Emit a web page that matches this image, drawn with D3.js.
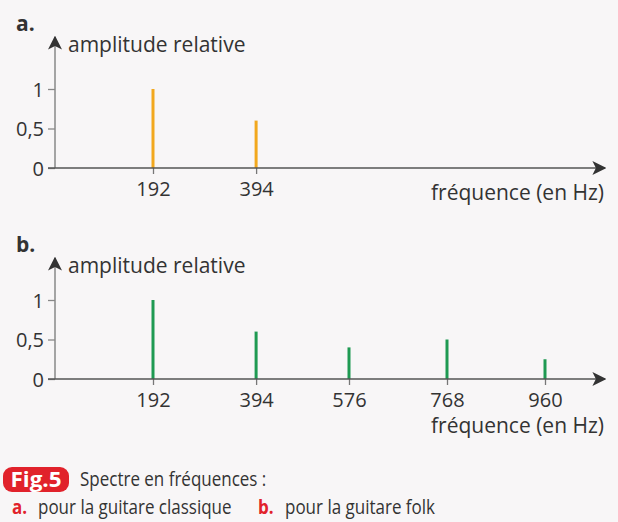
<!DOCTYPE html>
<html>
<head>
<meta charset="utf-8">
<script src="https://cdn.jsdelivr.net/npm/d3@7"></script>
<style>
  body { margin: 0; background: #f8f6f7; }
  svg { display: block; font-family: "Open Sans", sans-serif; }
</style>
</head>
<body>
<div id="chart"></div>
<script>
// spectre a : guitare classique
var freqA = [192, 394];
var ampA = [1, 0.6];
// spectre b : guitare folk
var freqB = [192, 394, 576, 768, 960];
var ampB = [1, 0.6, 0.4, 0.5, 0.25];
var ampTicks = [0, 0.5, 1];
var ampTickLabels = ["0", "0,5", "1"];

(function() {
  var width = 618, height = 522;

  var svg = d3.select("#chart")
    .append("svg")
    .attr("width", width)
    .attr("height", height)

  var defs = svg.append("defs")
  defs.append("marker")
    .attr("id", "arrow")
    .attr("viewBox", "0 0 10 10")
    .attr("refX", 9)
    .attr("refY", 5)
    .attr("markerWidth", 14)
    .attr("markerHeight", 14)
    .attr("markerUnits", "userSpaceOnUse")
    .attr("orient", "auto")
    .append("path")
    .attr("d", "M0,0 L10,5 L0,10 L2.5,5 Z")
    .attr("fill", "#333")

  var x = d3.scaleLinear()
    .domain([0, 960])
    .range([55, 545])

  // head = extra shift of the letter / arrow / title, labelY = baseline of the x title
  function drawPanel(top, head, labelY, letter, freqs, amps, color) {
    var g = svg.append("g")
      .attr("transform", "translate(0," + top + ")")

    // y = 0 at 168 px, 1 at 89 px inside the panel
    var y = d3.scaleLinear()
      .domain([0, 1])
      .range([168, 89])

    g.append("text")
      .text(letter)
      .attr("x", 16)
      .attr("y", 31 + head)
      .attr("font-size", "21px")
      .attr("font-weight", "bold")
      .attr("fill", "#333")

    // y axis
    var yAxis = d3.axisLeft(y)
      .tickValues(ampTicks)
      .tickSize(7)
      .tickPadding(4)
      .tickFormat(function(d, i) { return ampTickLabels[i] })

    var ya = g.append("g")
      .attr("transform", "translate(" + x(0) + ",0)")
      .call(yAxis)
    ya.select(".domain").remove()
    ya.selectAll("line").attr("stroke", "#888").attr("stroke-width", 1.3)
    ya.selectAll("text")
      .attr("font-size", "20px")
      .attr("font-family", "Open Sans, sans-serif")
      .attr("fill", "#333")
      .attr("dy", "0.36em")

    g.append("line")
      .attr("x1", x(0))
      .attr("x2", x(0))
      .attr("y1", y(0))
      .attr("y2", 37 + head)
      .attr("stroke", "#888")
      .attr("stroke-width", 1.5)
      .attr("marker-end", "url(#arrow)")

    g.append("text")
      .text("amplitude relative")
      .attr("x", 68)
      .attr("y", 52 + head)
      .attr("font-size", "21px")
      .attr("fill", "#333")

    // x axis
    var xAxis = d3.axisBottom(x)
      .tickValues(freqs)
      .tickSize(6)
      .tickPadding(8)
      .tickFormat(d3.format("d"))

    var xa = g.append("g")
      .attr("transform", "translate(0," + y(0) + ")")
      .call(xAxis)
    xa.select(".domain").remove()
    xa.selectAll("line").attr("stroke", "#777").attr("stroke-width", 1.3)
    xa.selectAll("text")
      .attr("font-size", "20px")
      .attr("font-family", "Open Sans, sans-serif")
      .attr("fill", "#333")

    // bars
    g.selectAll(".bar")
      .data(freqs)
      .enter().append("line")
      .attr("class", "bar")
      .attr("x1", function(d) { return x(d) })
      .attr("x2", function(d) { return x(d) })
      .attr("y1", y(0))
      .attr("y2", function(d, i) { return y(amps[i]) })
      .attr("stroke", color)
      .attr("stroke-width", 3)

    g.append("line")
      .attr("x1", 48)
      .attr("x2", 605)
      .attr("y1", y(0))
      .attr("y2", y(0))
      .attr("stroke", "#555")
      .attr("stroke-width", 1.6)
      .attr("marker-end", "url(#arrow)")

    g.append("text")
      .text("fréquence (en Hz)")
      .attr("x", 604)
      .attr("y", labelY)
      .attr("text-anchor", "end")
      .attr("font-size", "21px")
      .attr("fill", "#333")
  }

  drawPanel(0, 0, 200, "a.", freqA, ampA, "#f2a81e")
  drawPanel(211, 10, 222, "b.", freqB, ampB, "#1f9a52")

  // caption (the book uses a condensed face, so squeeze horizontally)
  svg.append("rect")
    .attr("x", 3)
    .attr("y", 467)
    .attr("width", 66)
    .attr("height", 25)
    .attr("rx", 9)
    .attr("fill", "#e1222b")

  var caps = [
    { t: "Fig.5", x: 36, y: 487, size: 22, sx: 1.02, anchor: "middle", bold: true, color: "white" },
    { t: "Spectre en fréquences :", x: 80, y: 486, size: 20, sx: 0.85, anchor: "start", bold: false, color: "#333" },
    { t: "a.", x: 12, y: 514, size: 20, sx: 0.85, anchor: "start", bold: true, color: "#e1222b" },
    { t: "pour la guitare classique", x: 38, y: 514, size: 20, sx: 0.85, anchor: "start", bold: false, color: "#333" },
    { t: "b.", x: 258, y: 514, size: 20, sx: 0.85, anchor: "start", bold: true, color: "#e1222b" },
    { t: "pour la guitare folk", x: 285, y: 514, size: 20, sx: 0.85, anchor: "start", bold: false, color: "#333" }
  ]
  svg.selectAll(".cap")
    .data(caps)
    .enter().append("text")
    .attr("class", "cap")
    .text(function(d) { return d.t })
    .attr("transform", function(d) { return "translate(" + d.x + "," + d.y + ") scale(" + d.sx + ",1)" })
    .attr("text-anchor", function(d) { return d.anchor })
    .attr("font-size", function(d) { return d.size + "px" })
    .attr("font-weight", function(d) { return d.bold ? "bold" : "normal" })
    .attr("fill", function(d) { return d.color })
})();
</script>
</body>
</html>
